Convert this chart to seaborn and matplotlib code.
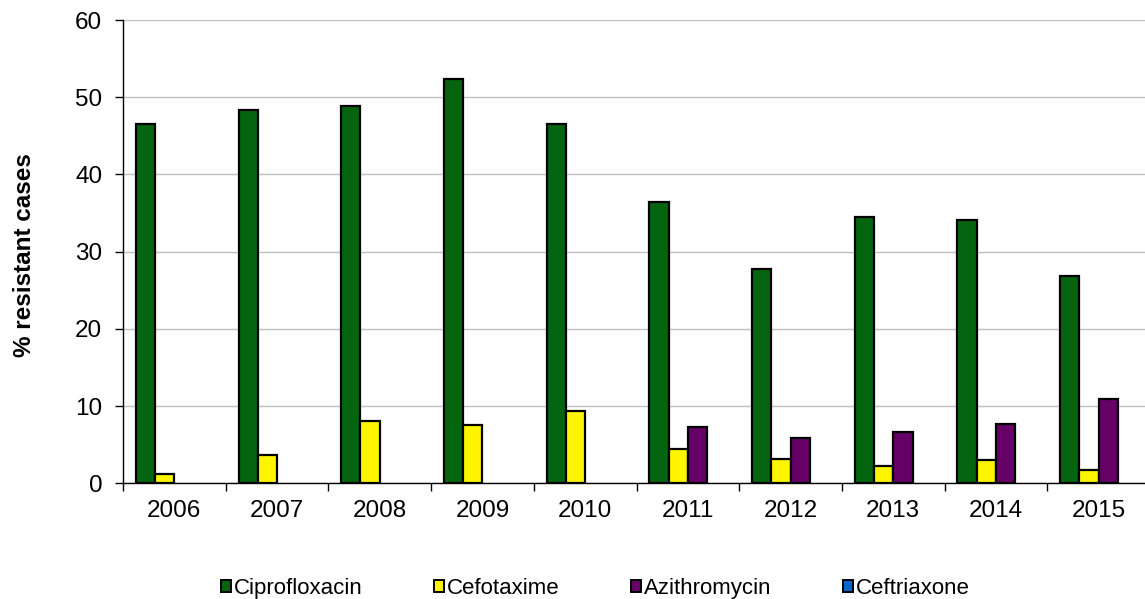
import numpy as np
import pandas as pd
import matplotlib
matplotlib.use('Agg')
import matplotlib.pyplot as plt
from matplotlib.patches import Patch
import seaborn as sns

# Values (% resistant cases)
years = ['2006', '2007', '2008', '2009', '2010', '2011', '2012', '2013', '2014', '2015']
ciprofloxacin = [46.5, 48.3, 48.8, 52.4, 46.5, 36.4, 27.8, 34.5, 34.1, 26.9]
cefotaxime = [1.25, 3.7, 8.1, 7.5, 9.4, 4.5, 3.2, 2.25, 3.0, 1.7]
azithromycin = [np.nan, np.nan, np.nan, np.nan, np.nan, 7.3, 5.9, 6.65, 7.65, 10.9]
ceftriaxone = [np.nan] * 10

drugs = ['Ciprofloxacin', 'Cefotaxime', 'Azithromycin', 'Ceftriaxone']
colors = ['#04640f', '#fff500', '#660066', '#0066cc']
y_ticks = [0, 10, 20, 30, 40, 50, 60]

df = pd.DataFrame({
    'year': years,
    'Ciprofloxacin': ciprofloxacin,
    'Cefotaxime': cefotaxime,
    'Azithromycin': azithromycin,
    'Ceftriaxone': ceftriaxone,
})
long_df = df.melt(id_vars='year', var_name='drug', value_name='pct')

sns.set_theme(style='white')
plt.rcParams['font.family'] = ['Liberation Sans', 'DejaVu Sans']
plt.rcParams['text.color'] = 'black'
plt.rcParams['axes.labelcolor'] = 'black'
plt.rcParams['xtick.color'] = 'black'
plt.rcParams['ytick.color'] = 'black'

fig = plt.figure(figsize=(11.45, 5.99), dpi=100)
ax = fig.add_axes([0.1074, 0.1932, 0.897, 0.7734])

sns.barplot(data=long_df, x='year', y='pct', hue='drug', hue_order=drugs,
            palette=colors, saturation=1, width=0.75, errorbar=None,
            edgecolor='black', linewidth=1.6, legend=False, ax=ax)

ax.set_ylim(0, 60)
ax.set_yticks(y_ticks)
ax.set_xlim(-0.5, len(years) - 0.5)
ax.yaxis.grid(True, color='#c0c0c0', linewidth=1)
ax.set_axisbelow(True)

for side in ['top', 'right']:
    ax.spines[side].set_visible(False)
for side in ['left', 'bottom']:
    ax.spines[side].set_color('black')
    ax.spines[side].set_linewidth(1)

# ticks at the category boundaries, labels at the centres
ax.set_xticks(np.arange(-0.5, len(years), 1), minor=True)
ax.tick_params(axis='x', which='major', length=0, pad=12, labelsize=17.5)
ax.tick_params(axis='x', which='minor', length=6, width=1, color='black', direction='out', bottom=True)
ax.tick_params(axis='y', which='major', length=6, width=1, color='black', direction='out',
               left=True, pad=9, labelsize=17.5)

ax.set_xlabel('')
ax.set_ylabel('% resistant cases', fontsize=17.5, fontweight='bold')
ax.yaxis.set_label_coords(-0.085, 0.493)

handles = [Patch(facecolor=c, edgecolor='black', linewidth=1.4, label=d) for d, c in zip(drugs, colors)]
fig.legend(handles=handles, loc='center', bbox_to_anchor=(0.52, 0.017), ncol=4,
           frameon=False, fontsize=16, handlelength=0.45, handleheight=0.45,
           handletextpad=0.15, columnspacing=3.2)

fig.savefig('out.png', dpi=100)
